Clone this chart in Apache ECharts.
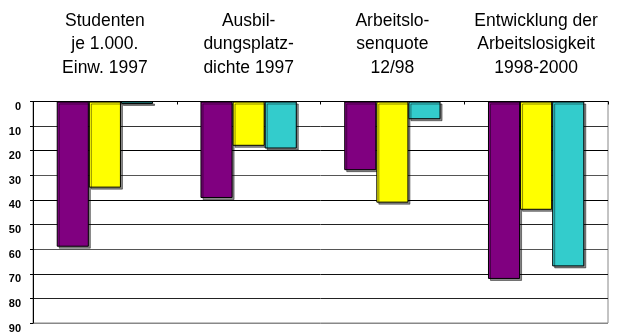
<!DOCTYPE html>
<html><head><meta charset="utf-8">
<script src="https://cdn.jsdelivr.net/npm/echarts@6/dist/echarts.min.js"></script>
<style>html,body{margin:0;padding:0;background:#fff}#c{width:626px;height:335px}</style>
</head><body><div id="c"></div>
<script>
const categories = ['Studenten\nje 1.000.\nEinw. 1997', 'Ausbil-\ndungsplatz-\ndichte 1997', 'Arbeitslo-\nsenquote\n12/98', 'Entwicklung der\nArbeitslosigkeit\n1998-2000'];
const seriesPurple = [59, 39.2, 27.9, 72.1];
const seriesYellow = [35, 18, 41.1, 44];
const seriesCyan = [1, 19.1, 7.2, 67];
const yMin = 0, yMax = 90, yStep = 10;

const chart = echarts.init(document.getElementById('c'), null, {renderer: 'canvas'});
const FONT = '"Liberation Sans", Arial, sans-serif';
function bar(name, data, color) {
  return {
    name, type: 'bar', data, barGap: '0%', barCategoryGap: '33%',
    itemStyle: {color, borderColor: '#000', borderWidth: 1,
      shadowColor: 'rgba(0,0,0,0.45)', shadowOffsetX: 2, shadowOffsetY: 2, shadowBlur: 0}
  };
}
chart.setOption({
  animation: false,
  backgroundColor: '#fff',
  grid: {left: 33, right: 18, top: 101.5, bottom: 12, show: true, borderColor: '#888', borderWidth: 1},
  xAxis: {
    type: 'category', position: 'top', data: categories,
    axisLine: {show: true, lineStyle: {color: '#000', width: 1}},
    axisTick: {show: true, inside: true, length: 3, lineStyle: {color: '#000'}},
    axisLabel: {interval: 0, margin: 22, fontFamily: FONT, fontSize: 17.5, lineHeight: 23.5, color: '#000', align: 'center'}
  },
  yAxis: {
    type: 'value', inverse: true, min: yMin, max: yMax, interval: yStep,
    axisLine: {show: true, lineStyle: {color: '#000', width: 1}},
    axisTick: {show: true, length: 3, lineStyle: {color: '#000'}},
    axisLabel: {margin: 12, fontFamily: FONT, fontSize: 11, fontWeight: 'bold', color: '#000', verticalAlign: 'top'},
    splitLine: {show: true, lineStyle: {color: ['#000','#333','#000','#555','#000','#222','#555','#111','#222','#888'], width: 1}}
  },
  series: [
    bar('A', seriesPurple, '#800080'),
    bar('B', seriesYellow, '#ffff00'),
    bar('C', seriesCyan, '#33cccc')
  ]
});
</script></body></html>
